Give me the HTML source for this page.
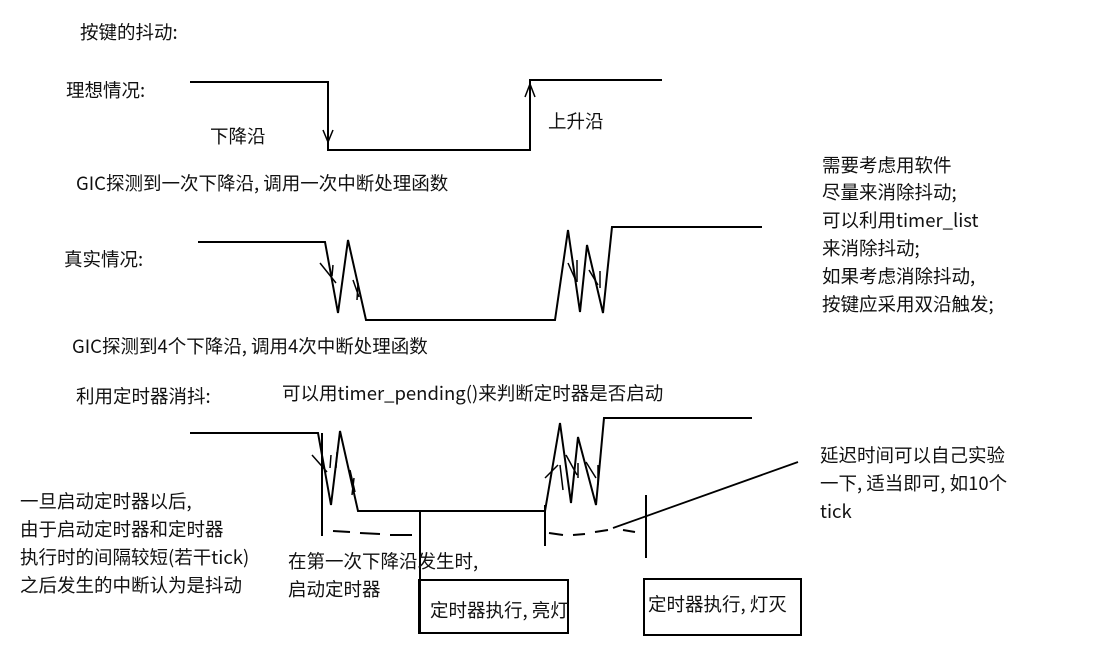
<!DOCTYPE html>
<html><head><meta charset="utf-8"><style>
html,body{margin:0;padding:0;background:#fff;}
svg{display:block}
text{font-family:"Noto Sans CJK SC","Liberation Sans",sans-serif;font-size:18.5px;fill:#111}
</style></head><body>
<svg width="1108" height="660" viewBox="0 0 1108 660">
<g fill="none" stroke="#000" stroke-width="2">
<polyline points="190,82 328,82 328,150 530,150 530,80 662,80"/>
<polyline points="323,130 328,142 333,130" stroke-width="1.5"/>
<polyline points="525,97 530,84 535,97" stroke-width="1.5"/>
<polyline points="198,242 325,242 338,313 348,240 366,320 555,320 568,230 580,312 587,245 603,313 612,227 762,227"/>
<path d="M320,263 L336,283 M332,276 L333,265 M353,280 L359,297 M358,283 L357,300" stroke-width="1.5"/>
<path d="M568,263 L576,281 M577,260 L577,282 M589,270 L598,285 M600,271 L600,288" stroke-width="1.5"/>
<polyline points="190,433 318,433 331,505 340,431 358,511 545,511 560,423 571,503 578,437 596,505 604,418 752,418"/>
<path d="M312,455 L327,472 M330,468 L331,455 M350,470 L355,492 M354,478 L352,495 M337,452 L336,468" stroke-width="1.5"/>
<path d="M545,478 L558,465 M560,465 L563,490 M566,455 L577,475 M578,463 L578,478 M586,462 L596,478 M598,465 L598,485" stroke-width="1.5"/>
<line x1="322" y1="433" x2="322" y2="536"/>
<line x1="420" y1="510" x2="420" y2="632"/>
<line x1="545" y1="505" x2="545" y2="546"/>
<line x1="646" y1="495" x2="646" y2="558"/>
<path d="M333,531 L350,532 M360,533 L380,534 M390,535 L412,535" />
<path d="M549,533 L563,535 M573,535 L585,534 M595,532 L608,530 M623,530 L635,532"/>
<line x1="613" y1="528" x2="798" y2="462" stroke-width="1.8"/>
<rect x="419" y="580" width="149" height="53"/>
<rect x="644" y="579" width="157" height="56"/>
</g>
<text x="80" y="39">按键的抖动:</text>
<text x="66" y="97">理想情况:</text>
<text x="210" y="143">下降沿</text>
<text x="548" y="128">上升沿</text>
<text x="76" y="190">GIC探测到一次下降沿, 调用一次中断处理函数</text>
<text x="64" y="266">真实情况:</text>
<text x="72" y="353">GIC探测到4个下降沿, 调用4次中断处理函数</text>
<text x="76" y="403">利用定时器消抖:</text>
<text x="282" y="400">可以用timer_pending()来判断定时器是否启动</text>
<text x="822" y="172">需要考虑用软件</text>
<text x="822" y="199">尽量来消除抖动;</text>
<text x="822" y="227">可以利用timer_list</text>
<text x="822" y="255">来消除抖动;</text>
<text x="822" y="283">如果考虑消除抖动,</text>
<text x="822" y="311">按键应采用双沿触发;</text>
<text x="20" y="508">一旦启动定时器以后,</text>
<text x="20" y="536">由于启动定时器和定时器</text>
<text x="20" y="564">执行时的间隔较短(若干tick)</text>
<text x="20" y="592">之后发生的中断认为是抖动</text>
<text x="288" y="568">在第一次下降沿发生时,</text>
<text x="288" y="596">启动定时器</text>
<text x="430" y="617">定时器执行, 亮灯</text>
<text x="648" y="611">定时器执行, 灯灭</text>
<text x="820" y="462">延迟时间可以自己实验</text>
<text x="820" y="490">一下, 适当即可, 如10个</text>
<text x="820" y="518">tick</text>
</svg>
</body></html>
